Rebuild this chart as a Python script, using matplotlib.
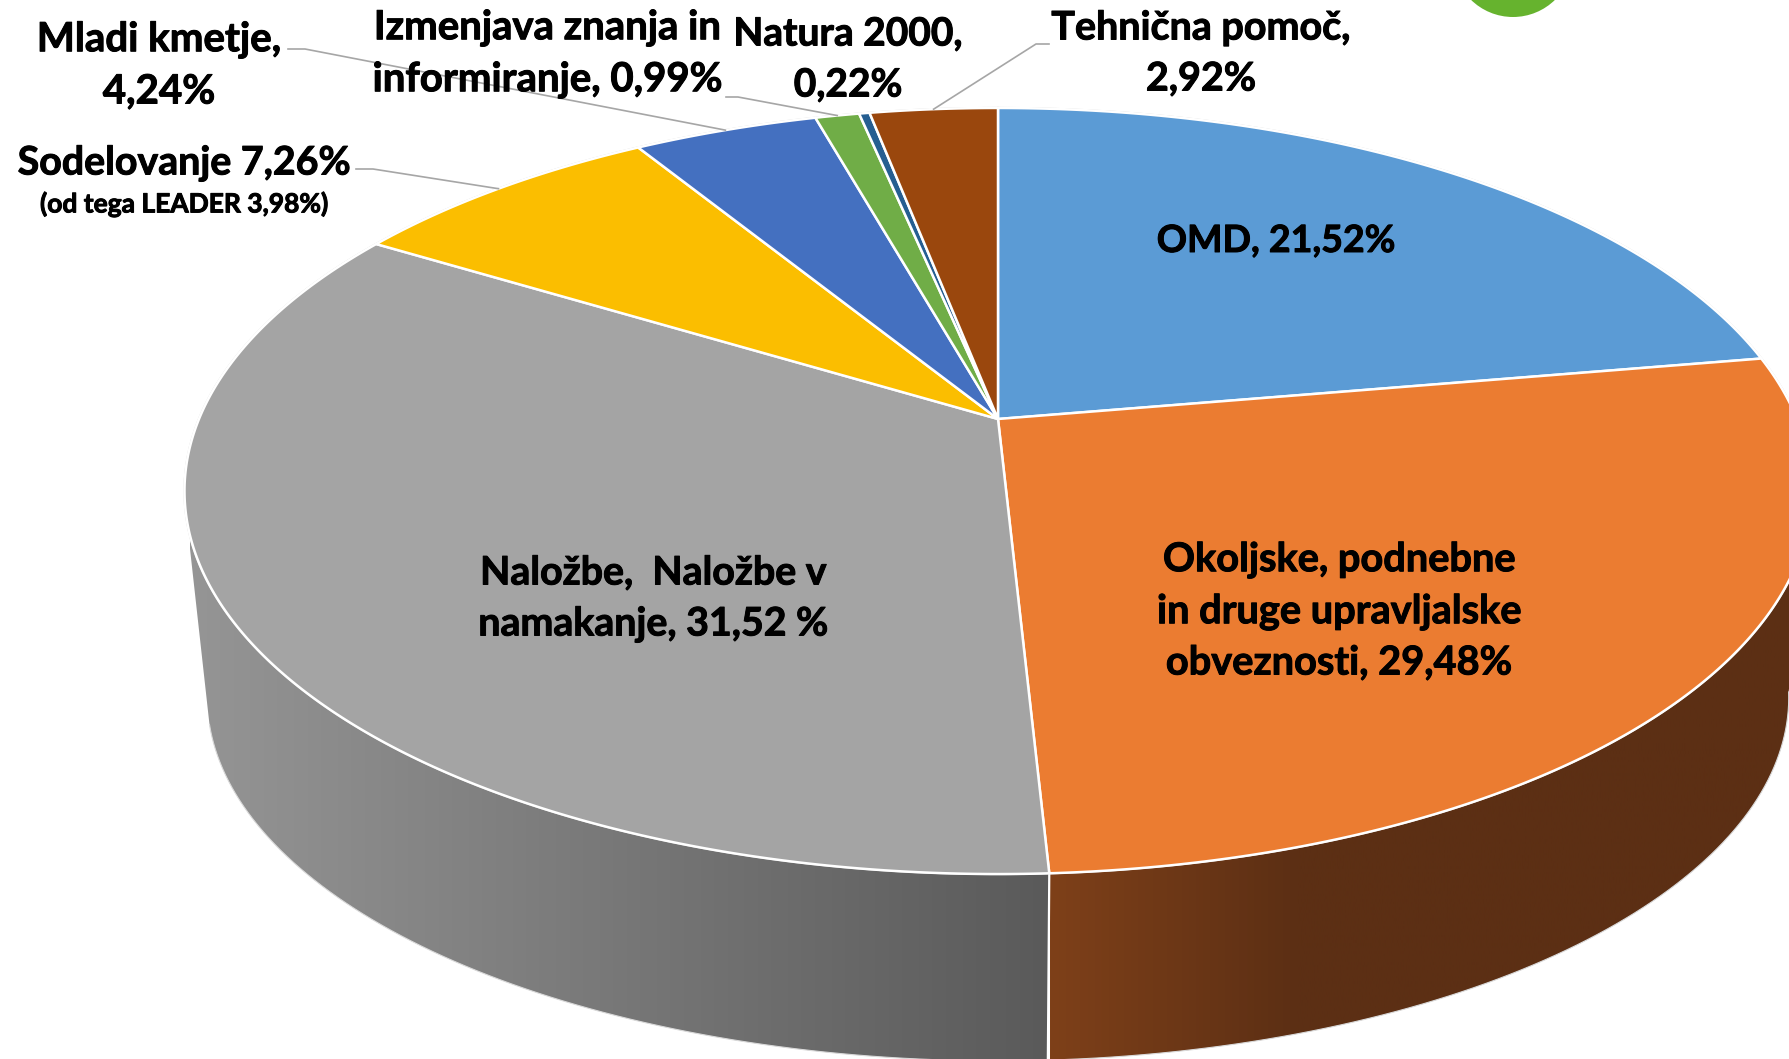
import matplotlib.pyplot as plt
import matplotlib.patheffects as pe
import numpy as np
from matplotlib.colors import LinearSegmentedColormap
from matplotlib.patches import Circle, Polygon

plt.rcParams["font.family"] = ["Lato", "DejaVu Sans"]
plt.rcParams["font.weight"] = "bold"

# slice sizes as measured on the picture (clockwise from 12 o'clock)
slice_names = ["OMD", "Okoljske", "Nalozbe", "Sodelovanje", "Mladi", "Izmenjava", "Natura", "Tehnicna"]
slice_shares = [22.3, 26.87, 34.53, 7.55, 4.4, 1.05, 0.25, 3.05]
slice_colors = ["#5B9BD5", "#EB7C31", "#A4A4A4", "#FBBE00", "#4470C0", "#70AD47", "#255E91", "#9A470D"]

# label text: text, x, y, size
labels = [
    ("Mladi kmetje,", 159, 40, 29),
    ("4,24%", 159, 92, 29),
    ("Izmenjava znanja in", 548, 28, 28.9),
    ("informiranje, 0,99%", 548, 80, 28.9),
    ("Natura 2000,", 848, 34, 28),
    ("0,22%", 848, 85, 28),
    ("Tehnična pomoč,", 1201, 28, 28.4),
    ("2,92%", 1201, 79, 28.4),
    ("Sodelovanje 7,26%", 184, 163, 28.3),
    ("(od tega LEADER 3,98%)", 184, 204, 19),
    ("OMD, 21,52%", 1276, 241, 27),
    ("Okoljske, podnebne", 1339, 560, 28.6),
    ("in druge upravljalske", 1339, 612, 28.6),
    ("obveznosti, 29,48%", 1339, 663, 28.6),
    ("Naložbe,  Naložbe v", 653, 573, 28.3),
    ("namakanje, 31,52 %", 653, 624, 28.3),
]

# leader lines: slice index, label end, elbow
leaders = [
    (3, (356, 169), (373, 169)),
    (4, (288, 49), (305, 49)),
    (5, (726, 97), (738, 97)),
    (7, (1049, 44), (1036, 44)),
]

# perspective of the pie
cx, cy = 998, 419
rx, ry = 799, 369.5
k = 0.188
low_cy = 629
low_sx, low_sy = 0.972, 0.949


def top_rim(theta):
    u = np.sin(theta)
    v = -np.cos(theta)
    return cx + rx * u / (1 - k * v), cy + ry * v / (1 - k * v)


def low_rim(theta):
    x, y = top_rim(theta)
    return cx + (x - cx) * low_sx, low_cy + (y - cy) * low_sy


def arc(func, a, b):
    n = max(int(abs(b - a) * 120), 2)
    x, y = func(np.linspace(a, b, n))
    return np.column_stack([x, y])


edges = np.cumsum([0] + slice_shares) / sum(slice_shares) * 2 * np.pi

fig, ax = plt.subplots(figsize=(17.9, 10.59), dpi=100)
fig.subplots_adjust(0, 0, 1, 1)
ax.set_axis_off()

# side walls with horizontal gradient, both start at the orange/grey seam
walls = [
    (np.radians(100), ["#7E4019", "#5C2F14", "#5C2F14", "#5C2F14"], (1050, 1790)),
    (np.radians(255), ["#5A5A5A", "#959595"], (1050, 190)),
]
seam = edges[2]
for turn, cols, ext in walls:
    pts = np.vstack([arc(top_rim, seam, turn), arc(low_rim, turn, seam)])
    cmap = LinearSegmentedColormap.from_list("wall", cols)
    im = ax.imshow(np.linspace(0, 1, 256).reshape(1, -1), cmap=cmap, aspect="auto",
                   extent=(ext[0], ext[1], 1100, 400), zorder=5)
    wall_patch = Polygon(pts, closed=True, facecolor="none", edgecolor="none", transform=ax.transData)
    ax.add_patch(wall_patch)
    im.set_clip_path(wall_patch)
    outline = arc(low_rim, seam, turn)
    ax.plot(outline[:, 0], outline[:, 1], color="#d9d9d9", lw=0.8, zorder=6)

# seam between the two walls
sx, sy = top_rim(seam)
lx, ly = low_rim(seam)
ax.plot([sx, lx], [sy, ly], color="white", lw=1.6, zorder=7)

# thin outline round the top face, then the slices
ring = arc(top_rim, 0, 2 * np.pi)
ax.plot(ring[:, 0], ring[:, 1], color="#cfcfcf", lw=1.6, zorder=8)
for i, color in enumerate(slice_colors):
    pts = np.vstack([[cx, cy], arc(top_rim, edges[i], edges[i + 1])])
    ax.add_patch(Polygon(pts, closed=True, facecolor=color, edgecolor="white", lw=1.8,
                         joinstyle="round", zorder=9))

# corner of the logo cut off by the top edge
ax.add_patch(Circle((1513, -43), 60, facecolor="#66B32E", edgecolor="none", zorder=2))

for index, start, elbow in leaders:
    mid = (edges[index] + edges[index + 1]) / 2
    ex, ey = top_rim(mid)
    ax.plot([start[0], elbow[0], ex], [start[1], elbow[1], ey], color="#A6A6A6", lw=1.2, zorder=10)

for text, x, y, size in labels:
    t = ax.text(x, y, text, fontsize=size, ha="center", va="center", color="black", zorder=12)
    t.set_path_effects([pe.withStroke(linewidth=0.7, foreground="black")])

ax.set_xlim(0, 1790)
ax.set_ylim(1059, 0)

fig.savefig("out.png", dpi=100)
